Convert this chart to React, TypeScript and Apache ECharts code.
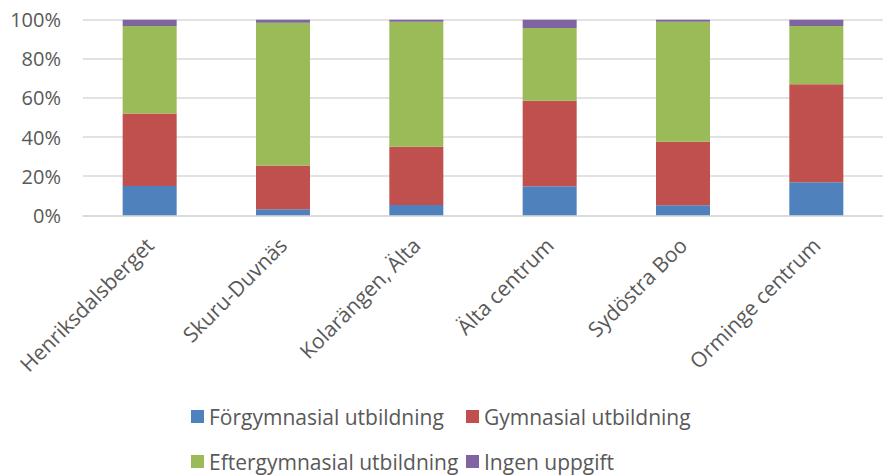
import React, { useEffect, useRef } from "react";
import * as echarts from "echarts";

const categories = [
  "Henriksdalsberget",
  "Skuru-Duvnäs",
  "Kolarängen, Älta",
  "Älta centrum",
  "Sydöstra Boo",
  "Orminge centrum",
];
const seriesNames = [
  "Förgymnasial utbildning",
  "Gymnasial utbildning",
  "Eftergymnasial utbildning",
  "Ingen uppgift",
];
const forgymnasial = [15.0, 3.1, 5.3, 14.8, 5.1, 16.9];
const gymnasial = [37.1, 22.3, 29.8, 43.8, 32.5, 50.1];
const eftergymnasial = [44.7, 73.1, 63.9, 37.1, 61.4, 29.8];
const ingenUppgift = [3.2, 1.5, 1.0, 4.3, 1.0, 3.2];
const yTicks = [0, 20, 40, 60, 80, 100];

const colors = ["#4f81bd", "#c0504d", "#9bbb59", "#8064a2"];
const FONT = "Open Sans";
const TEXT = "#595959";

export default function App() {
  const ref = useRef<HTMLDivElement>(null);
  useEffect(() => {
    document.body.style.margin = "0";
    const chart = echarts.init(ref.current!, null, { renderer: "svg" });
    const values = [forgymnasial, gymnasial, eftergymnasial, ingenUppgift];
    const legendBase = {
      orient: "vertical",
      top: 406,
      height: 69,
      padding: 0,
      itemWidth: 13,
      itemHeight: 13,
      itemGap: 24,
      icon: "rect",
      textStyle: { color: TEXT, fontSize: 21, fontFamily: FONT, lineHeight: 21 },
    };
    chart.setOption({
      animation: false,
      color: colors,
      textStyle: { fontFamily: FONT },
      grid: { left: 83, top: 19.7, width: 812, height: 195.6, containLabel: false },
      legend: [
        { ...legendBase, left: 191, data: [seriesNames[0], seriesNames[2]] },
        { ...legendBase, left: 466, data: [seriesNames[1], seriesNames[3]] },
      ],
      xAxis: {
        type: "category",
        data: categories,
        axisLine: { lineStyle: { color: "#d9d9d9", width: 1.5 } },
        axisTick: { show: false },
        axisLabel: {
          rotate: 45,
          color: TEXT,
          fontSize: 21,
          fontFamily: FONT,
          margin: 26,
          interval: 0,
        },
      },
      yAxis: {
        type: "value",
        min: yTicks[0],
        max: yTicks[yTicks.length - 1],
        interval: 20,
        axisLine: { show: false },
        axisTick: { show: false },
        splitLine: { lineStyle: { color: "#d9d9d9", width: 1.5 } },
        axisLabel: {
          formatter: "{value}%",
          color: TEXT,
          fontSize: 20,
          fontFamily: FONT,
          margin: 22,
        },
      },
      series: seriesNames.map((name, i) => ({
        name,
        type: "bar",
        stack: "total",
        barWidth: 54,
        data: values[i],
        itemStyle: { color: colors[i] },
      })),
    });
    return () => chart.dispose();
  }, []);
  return <div ref={ref} style={{ width: 883, height: 475 }} />;
}
